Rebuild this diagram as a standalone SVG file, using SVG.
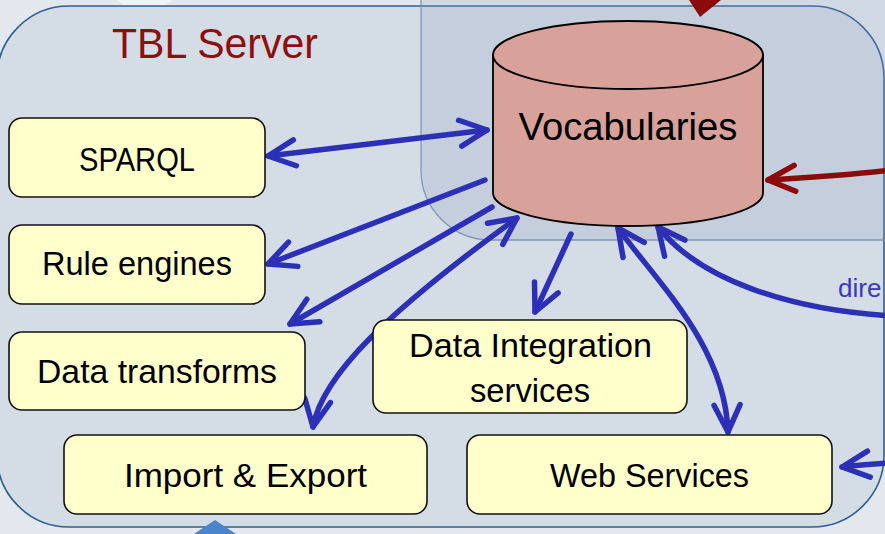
<svg xmlns="http://www.w3.org/2000/svg" width="885" height="534" viewBox="0 0 885 534">
<style>
.box{fill:#ffffcc;stroke:#111;stroke-width:1.6}
.lbl{font-family:"Liberation Sans",Arial,sans-serif;font-size:33px;fill:#000;text-anchor:middle}
.blue{fill:none;stroke:#2c30b6;stroke-width:5.5;stroke-linecap:round}
.red{fill:none;stroke:#8b0a0a;stroke-width:5.5;stroke-linecap:round}
</style>
<defs>
<marker id="ah" markerUnits="userSpaceOnUse" markerWidth="60" markerHeight="60" viewBox="-40 -30 60 60" refX="0" refY="0" orient="auto-start-reverse" overflow="visible">
<path d="M-27,-13 L0,0 L-27,13" fill="none" stroke="#2c30b6" stroke-width="5.5" stroke-linecap="round" stroke-linejoin="round"/>
</marker>
<marker id="ahr" markerUnits="userSpaceOnUse" markerWidth="60" markerHeight="60" viewBox="-40 -30 60 60" refX="0" refY="0" orient="auto" overflow="visible">
<path d="M-27,-13 L0,0 L-27,13" fill="none" stroke="#8b0a0a" stroke-width="5.5" stroke-linecap="round" stroke-linejoin="round"/>
</marker>
</defs>
<rect x="0" y="0" width="885" height="534" fill="#e3e8ee"/>
<polygon points="117,0 173,0 145,20" fill="#ffffff" opacity="0.45"/>
<g id="server">
<rect x="-3" y="6" width="887" height="521" rx="72" ry="72" fill="#d4dce5" stroke="#2f5f96" stroke-width="1.6"/>
<text x="215" y="58" style="font-family:'Liberation Sans',Arial,sans-serif;font-size:42px;fill:#8b1010;text-anchor:middle" textLength="206" lengthAdjust="spacingAndGlyphs">TBL Server</text>
</g>
<g id="panel">
<path d="M421,-2 L421,170 A70,70 0 0 0 491,240 L890,240 L890,-2 Z" fill="#8ca0be" fill-opacity="0.22" stroke="#7f98b3" stroke-width="1.3"/>
</g>
<polygon points="689,0 721,0 700,17" fill="#8b0a0a"/>
<polygon points="194,534 215,520 236,534" fill="#4a84cc"/>
<g id="connectors">
<path class="blue" d="M268,156 L487,130" marker-start="url(#ah)" marker-end="url(#ah)"/>
<path class="blue" d="M485,180 L268,264" marker-end="url(#ah)"/>
<path class="blue" d="M492,207 L290,324" marker-end="url(#ah)"/>
<path class="blue" d="M313,427 C322,375 390,310 517,218" marker-start="url(#ah)" marker-end="url(#ah)"/>
<path class="blue" d="M571,234 L535,312" marker-end="url(#ah)"/>
<path class="blue" d="M618,228 C655,280 725,345 728,432" marker-start="url(#ah)" marker-end="url(#ah)"/>
<path class="blue" d="M892,316 C790,310 700,280 658,227" marker-end="url(#ah)"/>
<path class="blue" d="M892,463 Q870,464 842,467" marker-end="url(#ah)"/>
<path class="red" d="M892,170 C840,176 800,178 768,180" marker-end="url(#ahr)"/>
<text x="838" y="297" style="font-family:'Liberation Sans',Arial,sans-serif;font-size:26px;fill:#3838c4">dire</text>
</g>
<g id="vocabularies">
<path d="M493,55 L493,193 A135,33 0 0 0 763,193 L763,55 Z" fill="#d8a19a" stroke="#000" stroke-width="1.8"/>
<ellipse cx="628" cy="55" rx="135" ry="34" fill="#d8a19a" stroke="#000" stroke-width="1.8"/>
<text class="lbl" x="628" y="140" style="font-size:38px" textLength="219" lengthAdjust="spacingAndGlyphs">Vocabularies</text>
</g>
<g id="sparql">
<rect class="box" x="9" y="118" width="256" height="79" rx="13"/>
<text class="lbl" x="137" y="171" textLength="116" lengthAdjust="spacingAndGlyphs">SPARQL</text>
</g>
<g id="rule-engines">
<rect class="box" x="9" y="225" width="256" height="79" rx="13"/>
<text class="lbl" x="137" y="275" textLength="190" lengthAdjust="spacingAndGlyphs">Rule engines</text>
</g>
<g id="data-transforms">
<rect class="box" x="9" y="332" width="296" height="78" rx="13"/>
<text class="lbl" x="157" y="383" textLength="240" lengthAdjust="spacingAndGlyphs">Data transforms</text>
</g>
<g id="data-integration">
<rect class="box" x="373" y="320" width="314" height="93" rx="13"/>
<text class="lbl" x="530.5" y="357" textLength="243" lengthAdjust="spacingAndGlyphs">Data Integration</text>
<text class="lbl" x="530" y="402" textLength="120" lengthAdjust="spacingAndGlyphs">services</text>
</g>
<g id="import-export">
<rect class="box" x="64" y="435" width="363" height="79" rx="13"/>
<text class="lbl" x="245.5" y="487" textLength="243" lengthAdjust="spacingAndGlyphs">Import &amp; Export</text>
</g>
<g id="web-services">
<rect class="box" x="467" y="435" width="365" height="79" rx="13"/>
<text class="lbl" x="649.5" y="487" textLength="199" lengthAdjust="spacingAndGlyphs">Web Services</text>
</g>
</svg>
